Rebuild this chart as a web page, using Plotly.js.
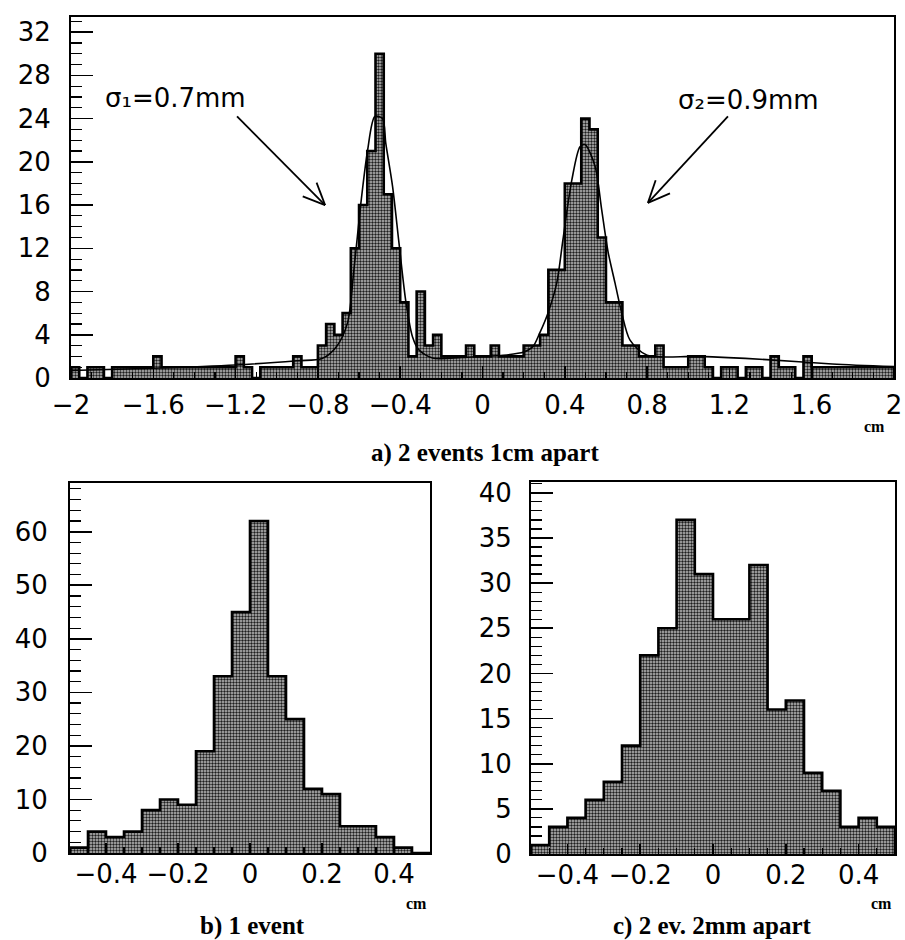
<!DOCTYPE html>
<html><head><meta charset="utf-8">
<script src="https://cdn.plot.ly/plotly-3.0.1.min.js"></script>
<style>html,body{margin:0;padding:0;background:#fff;} #chart{width:905px;height:940px;}</style>
</head><body><div id="chart"></div>
<script>
// ---------------- data ----------------
// panel a) : 100 bins of 0.04 cm from -2 to 2
const topBinStart = -2.0;
const topBinWidth = 0.04;
const topCounts = [
  1,0,1,1,0,1,1,1,1,1,
  2,1,1,1,1,1,1,1,1,1,
  2,1,0,1,1,1,1,2,1,1,
  3,5,4,6,12,16,21,30,17,12,
  7,2,8,3,4,2,2,2,3,2,
  2,3,2,2,2,3,3,4,10,10,
  18,18,24,23,13,7,7,3,3,2,
  2,3,1,1,1,2,2,1,0,1,
  1,0,1,1,0,2,1,1,0,2,
  1,1,1,1,1,1,1,1,1,1
];
// fitted curve
const topFitX = [-2.0,-1.6,-1.2,-0.9,-0.78,-0.71,-0.656,-0.625,-0.591,-0.559,-0.523,-0.486,-0.47,-0.437,-0.406,-0.372,-0.34,-0.309,-0.243,-0.1,0.0,0.1,0.2,0.245,0.279,0.318,0.361,0.391,0.434,0.474,0.498,0.547,0.579,0.61,0.644,0.677,0.717,0.8,1.05,1.38,1.7,2.0];
const topFitY = [0.7,0.9,1.2,1.6,1.8,2.9,5.1,10,16.2,21,24.2,24,21.7,17.7,12.5,7,3.8,2.6,1.85,1.9,2.0,2.1,2.4,2.9,4.2,6,8.8,12.8,18.3,21.4,21.6,19.6,15.6,11.7,8.8,6,3.5,2.1,2.0,1.7,1.3,1.05];

// panel b) : 20 bins of 0.05 cm from -0.5 to 0.5
const oneBinStart = -0.5;
const oneBinWidth = 0.05;
const oneEventCounts = [1,4,3,4,8,10,9,19,33,45,62,33,25,12,11,5,5,3,1,0];

// panel c) : 20 bins of 0.05 cm from -0.5 to 0.5
const twoBinStart = -0.5;
const twoBinWidth = 0.05;
const twoEventCounts = [1,3,4,6,8,12,22,25,37,31,26,26,32,16,17,9,7,3,4,3];

const panelTitles = ['a) 2 events 1cm apart', 'b) 1 event', 'c) 2 ev. 2mm apart'];
const sigmaLabels = ['σ₁=0.7mm', 'σ₂=0.9mm'];
const unitLabel = 'cm';

// ---------------- helpers ----------------
const W = 905, H = 940;
const fx = p => p / W;
const fy = p => 1 - p / H;

const fillMarker = {
  color: '#a8a8a8',
  line: {width: 0},
  pattern: {shape: '.', fgcolor: '#1e1e1e', bgcolor: '#bebebe', size: 3, solidity: 0.5}
};

function histTraces(counts, start, width, xa, ya) {
  const centers = counts.map((_, i) => start + (i + 0.5) * width);
  const lefts = counts.map((_, i) => start + i * width);
  const hi = start + counts.length * width;
  const bar = {
    type: 'bar', x: centers, y: counts, width: width,
    marker: fillMarker, xaxis: xa, yaxis: ya, hoverinfo: 'skip'
  };
  const outline = {
    type: 'scatter', mode: 'lines',
    x: [start].concat(lefts, [hi]),
    y: [0].concat(counts, [0]),
    line: {shape: 'hv', color: '#000', width: 2.6},
    xaxis: xa, yaxis: ya, hoverinfo: 'skip'
  };
  return [bar, outline];
}

const traces = []
  .concat(histTraces(topCounts, topBinStart, topBinWidth, 'x', 'y'))
  .concat([{
    type: 'scatter', mode: 'lines', x: topFitX, y: topFitY,
    line: {shape: 'spline', smoothing: 0.8, color: '#000', width: 1.6},
    xaxis: 'x', yaxis: 'y', hoverinfo: 'skip'
  }])
  .concat(histTraces(oneEventCounts, oneBinStart, oneBinWidth, 'x2', 'y2'))
  .concat(histTraces(twoEventCounts, twoBinStart, twoBinWidth, 'x3', 'y3'));

const tickFont = {family: 'DejaVu Sans', size: 26, color: '#000'};

function axisBase(extra) {
  return Object.assign({
    showline: true, linecolor: '#000', linewidth: 2, mirror: true,
    showgrid: false, zeroline: false,
    ticks: 'inside', tickcolor: '#000', tickwidth: 1.6,
    tickmode: 'linear', fixedrange: true
  }, extra);
}

// top panel geometry (pixels) used to build arrows
const topRange = {x0: -2, x1: 2, y0: 0, y1: 33.4};
const topPx = {l: 71, r: 894, t: 17, b: 378};
const pxPerX = (topPx.r - topPx.l) / (topRange.x1 - topRange.x0);
const pxPerY = (topPx.b - topPx.t) / (topRange.y1 - topRange.y0);

function arrowShapes(tail, tip) {
  const dxp = (tip[0] - tail[0]) * pxPerX;
  const dyp = -(tip[1] - tail[1]) * pxPerY;
  const len = Math.hypot(dxp, dyp);
  const ux = dxp / len, uy = dyp / len;
  const head = 24, ang = 24 * Math.PI / 180;
  const shapes = [{type: 'line', xref: 'x', yref: 'y', x0: tail[0], y0: tail[1], x1: tip[0], y1: tip[1],
                   line: {color: '#000', width: 1.8}}];
  [ang, -ang].forEach(a => {
    const bx = -(ux * Math.cos(a) - uy * Math.sin(a)) * head;
    const by = -(ux * Math.sin(a) + uy * Math.cos(a)) * head;
    shapes.push({type: 'line', xref: 'x', yref: 'y', x0: tip[0], y0: tip[1],
                 x1: tip[0] + bx / pxPerX, y1: tip[1] - by / pxPerY,
                 line: {color: '#000', width: 1.8}});
  });
  return shapes;
}

const shapes = [].concat(
  arrowShapes([-1.193, 24.2], [-0.765, 16.0]),
  arrowShapes([1.193, 24.2], [0.804, 16.2])
);

const titleFont = {family: 'Liberation Serif', size: 25, weight: 'bold', color: '#000'};
const unitFont = {family: 'Liberation Serif', size: 16, weight: 'bold', color: '#000'};
const sigmaFont = {family: 'DejaVu Sans', size: 26, color: '#000'};

const layout = {
  width: W, height: H,
  margin: {l: 0, r: 0, t: 0, b: 0},
  paper_bgcolor: '#fff', plot_bgcolor: '#fff',
  showlegend: false, barmode: 'overlay', bargap: 0,
  xaxis: axisBase({
    domain: [fx(topPx.l), fx(topPx.r)], range: [topRange.x0, topRange.x1], anchor: 'y',
    tick0: -2, dtick: 0.4, ticklen: 12, tickfont: tickFont, ticklabelstandoff: 3,
    minor: {ticks: 'inside', dtick: 0.1, ticklen: 6, tickcolor: '#000', tickwidth: 1.2}
  }),
  yaxis: axisBase({
    domain: [fy(topPx.b), fy(topPx.t)], range: [topRange.y0, topRange.y1], anchor: 'x',
    tick0: 0, dtick: 4, ticklen: 22, tickfont: tickFont, ticklabelstandoff: 13,
    minor: {ticks: 'inside', dtick: 1, ticklen: 11, tickcolor: '#000', tickwidth: 1.2}
  }),
  xaxis2: axisBase({
    domain: [fx(70), fx(430)], range: [-0.5, 0.5], anchor: 'y2',
    tick0: 0, dtick: 0.2, ticklen: 10, tickfont: tickFont, ticklabelstandoff: -3,
    minor: {ticks: 'inside', dtick: 0.05, ticklen: 6, tickcolor: '#000', tickwidth: 1.2}
  }),
  yaxis2: axisBase({
    domain: [fy(853), fy(483)], range: [0, 69.1], anchor: 'x2',
    tick0: 0, dtick: 10, ticklen: 22, tickfont: tickFont, ticklabelstandoff: 15,
    minor: {ticks: 'inside', dtick: 2, ticklen: 11, tickcolor: '#000', tickwidth: 1.2}
  }),
  xaxis3: axisBase({
    domain: [fx(531), fx(895)], range: [-0.5, 0.5], anchor: 'y3',
    tick0: 0, dtick: 0.2, ticklen: 10, tickfont: tickFont, ticklabelstandoff: -3,
    minor: {ticks: 'inside', dtick: 0.05, ticklen: 6, tickcolor: '#000', tickwidth: 1.2}
  }),
  yaxis3: axisBase({
    domain: [fy(854), fy(482)], range: [0, 41.2], anchor: 'x3',
    tick0: 0, dtick: 5, ticklen: 22, tickfont: tickFont, ticklabelstandoff: 12,
    minor: {ticks: 'inside', dtick: 1, ticklen: 11, tickcolor: '#000', tickwidth: 1.2}
  }),
  shapes: shapes,
  annotations: [
    {xref: 'x', yref: 'y', x: -1.49, y: 25.9, text: sigmaLabels[0], showarrow: false, font: sigmaFont},
    {xref: 'x', yref: 'y', x: 1.295, y: 25.7, text: sigmaLabels[1], showarrow: false, font: sigmaFont},
    {xref: 'paper', yref: 'paper', x: fx(485), y: fy(453), text: panelTitles[0], showarrow: false,
     xanchor: 'center', yanchor: 'middle', font: titleFont},
    {xref: 'paper', yref: 'paper', x: fx(252), y: fy(926), text: panelTitles[1], showarrow: false,
     xanchor: 'center', yanchor: 'middle', font: titleFont},
    {xref: 'paper', yref: 'paper', x: fx(712), y: fy(926), text: panelTitles[2], showarrow: false,
     xanchor: 'center', yanchor: 'middle', font: titleFont},
    {xref: 'paper', yref: 'paper', x: fx(874), y: fy(426), text: unitLabel, showarrow: false,
     xanchor: 'center', yanchor: 'middle', font: unitFont},
    {xref: 'paper', yref: 'paper', x: fx(416), y: fy(903), text: unitLabel, showarrow: false,
     xanchor: 'center', yanchor: 'middle', font: unitFont},
    {xref: 'paper', yref: 'paper', x: fx(881), y: fy(903), text: unitLabel, showarrow: false,
     xanchor: 'center', yanchor: 'middle', font: unitFont}
  ]
};

Plotly.newPlot('chart', traces, layout, {staticPlot: true, displayModeBar: false});
</script>
</body></html>
